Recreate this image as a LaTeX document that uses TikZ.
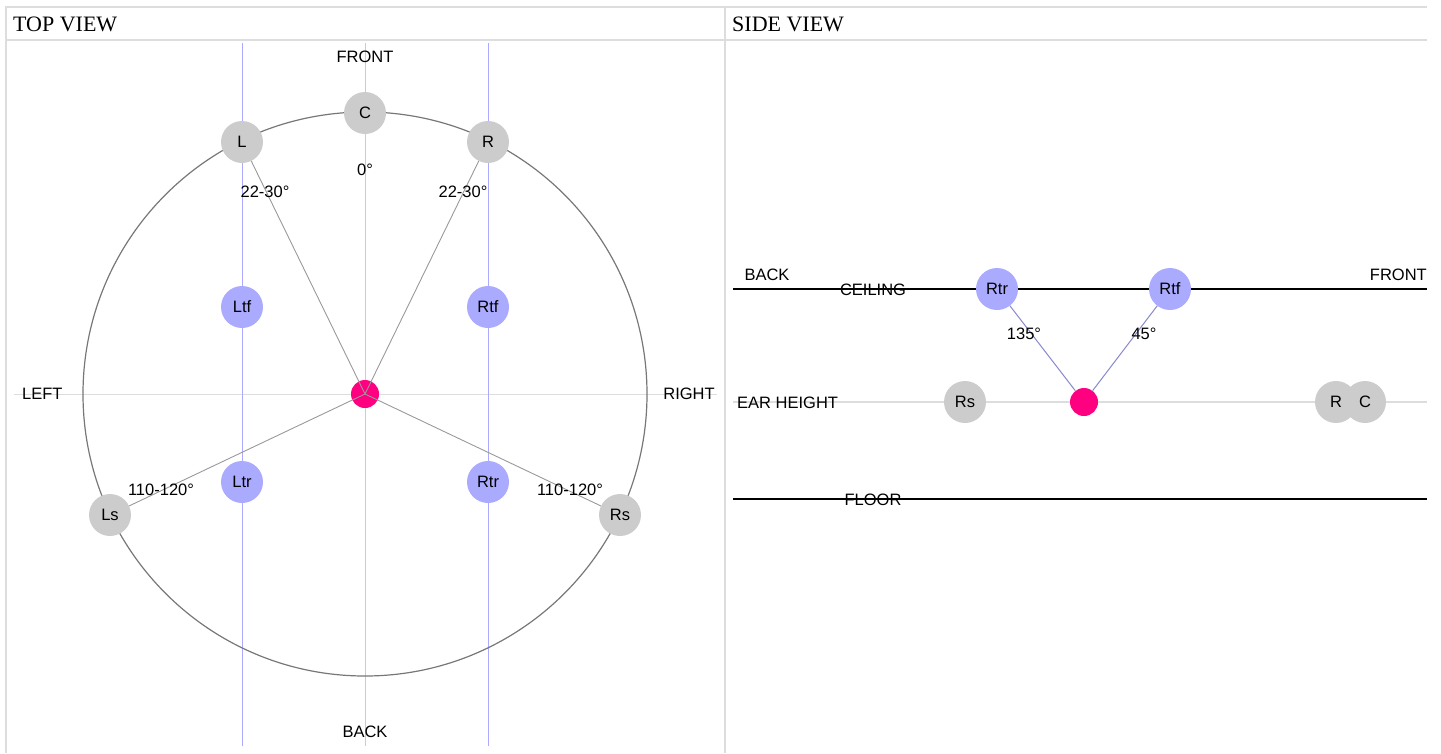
\documentclass[tikz,border=0pt]{standalone}
\usepackage{fontspec}
\setmainfont{Liberation Serif}
\setsansfont{Liberation Sans}
\usetikzlibrary{positioning}

\definecolor{spkgray}{HTML}{CCCCCC}
\definecolor{spkblue}{HTML}{AAAAFF}
\definecolor{lstpink}{HTML}{FF0080}
\definecolor{framegray}{HTML}{DDDDDD}
\definecolor{ringgray}{HTML}{777777}
\definecolor{raygray}{HTML}{999999}
\definecolor{raysblue}{HTML}{8888CC}

\tikzset{
  spk/.style={circle,inner sep=0pt,minimum size=42pt,font=\sffamily\fontsize{16.5}{18}\selectfont},
  spkg/.style={spk,fill=spkgray},
  spkb/.style={spk,fill=spkblue},
  lst/.style={circle,inner sep=0pt,minimum size=28pt,fill=lstpink},
  lbl/.style={inner sep=0pt,font=\sffamily\fontsize{16.5}{18}\selectfont},
  hdr/.style={inner sep=0pt,anchor=base west,font=\rmfamily\fontsize{22}{26}\selectfont},
}

\begin{document}
\begin{tikzpicture}[x=1pt,y=-1pt]
  \useasboundingbox (0,0) rectangle (1441,753);
  % frame
  \draw[framegray,line width=2pt] (6,7) -- (1427,7);
  \draw[framegray,line width=2pt] (6,40) -- (1427,40);
  \draw[framegray,line width=2pt] (6,6) -- (6,753);
  \draw[framegray,line width=2pt] (725,6) -- (725,753);
  \node[hdr] (topv) at (13,31) {TOP VIEW};
  \node[hdr] (sidev) at (732,31) {SIDE VIEW};

  % top view
  \coordinate (ctr) at (365,394);
  \draw[spkgray,line width=1pt] (365,43) -- (365,746);
  \draw[framegray,line width=1pt] (14,394) -- (717,394);
  \draw[spkblue,line width=1pt] (242,43) -- (242,746);
  \draw[spkblue,line width=1pt] (488,43) -- (488,746);
  \draw[ringgray,line width=1.2pt] (ctr) circle (282);

  \node[spkg] (C) at (365,113) {C};
  \node[spkg] (L) at (242,142) {L};
  \node[spkg] (R) at (488,142) {R};
  \node[spkb] (Ltf) at (242,307) {Ltf};
  \node[spkb] (Rtf) at (488,307) {Rtf};
  \node[spkb] (Ltr) at (242,482) {Ltr};
  \node[spkb] (Rtr) at (488,482) {Rtr};
  \node[spkg] (Ls) at (110,515) {Ls};
  \node[spkg] (Rs) at (620,515) {Rs};
  \node[lst] (lsn) at (ctr) {};

  \foreach \s in {L,R,Ls,Rs}
    \draw[raygray,line width=0.9pt] (lsn.center) -- (\s);

  \node[lbl] (front) at (365,57) {FRONT};
  \node[lbl] (back) at (365,732) {BACK};
  \node[lbl,anchor=west] (left) at (22,394) {LEFT};
  \node[lbl] (right) at (689,394) {RIGHT};
  \node[lbl] (degc) at (365,170) {0°};
  \node[lbl] (degl) at (265,192) {22-30°};
  \node[lbl] (degr) at (463,192) {22-30°};
  \node[lbl] (degls) at (161,490) {110-120°};
  \node[lbl] (degrs) at (570,490) {110-120°};

  % side view
  \draw[black,line width=1.2pt] (733,289) -- (1427,289);
  \draw[framegray,line width=1.2pt] (733,402) -- (1427,402);
  \draw[black,line width=1.2pt] (733,499) -- (1427,499);

  \node[lbl] (sback) at (767,275) {BACK};
  \node[lbl,anchor=east] (sfront) at (1427,275) {FRONT};
  \node[lbl] (ceil) at (873,290) {CEILING};
  \node[lbl,anchor=west] (ear) at (737,403) {EAR HEIGHT};
  \node[lbl] (floor) at (873,500) {FLOOR};

  \node[spkg] (sRs) at (965,402) {Rs};
  \node[spkg] (sR) at (1336,402) {R};
  \node[spkg] (sC) at (1365,402) {C};
  \node[spkb] (sRtr) at (997,289) {Rtr};
  \node[spkb] (sRtf) at (1170,289) {Rtf};
  \node[lst] (slsn) at (1084,402) {};

  \draw[raysblue,line width=1pt] (sRtr) -- (slsn);
  \draw[raysblue,line width=1pt] (sRtf) -- (slsn);

  \node[lbl] (deg135) at (1024,334) {135°};
  \node[lbl] (deg45) at (1144,334) {45°};
\end{tikzpicture}
\end{document}
